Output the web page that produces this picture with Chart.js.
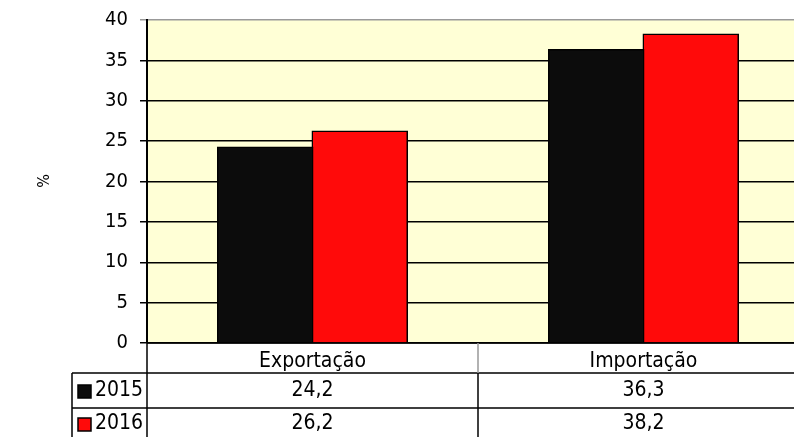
<!DOCTYPE html>
<html>
<head>
<meta charset="utf-8">
<script src="https://cdn.jsdelivr.net/npm/chart.js@4.4.0/dist/chart.umd.min.js"></script>
<style>
  html, body { margin: 0; padding: 0; background: #fff; overflow: hidden; }
  #wrap { width: 794px; height: 437px; overflow: hidden; }
  #inner { width: 809px; height: 437px; }
</style>
</head>
<body>
<div id="wrap"><div id="inner"><canvas id="chart"></canvas></div></div>
<script>
let categories = ['Exportação', 'Importação'];
let seriesNames = ['2015', '2016'];
let values2015 = [24.2, 36.3];
let values2016 = [26.2, 38.2];
let yTicks = [0, 5, 10, 15, 20, 25, 30, 35, 40];

const FONT = '"DejaVu Sans Condensed", "DejaVu Sans", sans-serif';

const fmt = v => v.toFixed(1).replace('.', ',');

// plot background + data table under the chart
const tablePlugin = {
    id: 'tablePlugin',
    beforeDraw(chart) {
        let ctx = chart.ctx;
        let a = chart.chartArea;
        ctx.save();
        ctx.fillStyle = '#ffffd6';
        ctx.fillRect(a.left, a.top, a.right - a.left, a.bottom - a.top);
        ctx.restore();
    },
    afterDraw(chart) {
        let ctx = chart.ctx;
        let a = chart.chartArea;
        let x = chart.scales.x;
        let rowTop = a.bottom;
        let row1 = 373, row2 = 408, bottom = 437;
        let leftCol = 72;

        ctx.save();
        ctx.strokeStyle = '#000';
        ctx.lineWidth = 1.5;
        ctx.beginPath();
        ctx.moveTo(a.left, rowTop); ctx.lineTo(a.right, rowTop);
        ctx.moveTo(leftCol, row1); ctx.lineTo(a.right, row1);
        ctx.moveTo(leftCol, row2); ctx.lineTo(a.right, row2);
        ctx.moveTo(leftCol, row1); ctx.lineTo(leftCol, bottom);
        ctx.moveTo(a.left, rowTop); ctx.lineTo(a.left, bottom);
        ctx.stroke();

        // category separators
        for (let i = 1; i < categories.length; i++) {
            let sx = (x.getPixelForValue(i - 1) + x.getPixelForValue(i)) / 2;
            ctx.strokeStyle = '#999';
            ctx.beginPath(); ctx.moveTo(sx, rowTop); ctx.lineTo(sx, row1); ctx.stroke();
            ctx.strokeStyle = '#000';
            ctx.beginPath(); ctx.moveTo(sx, row1); ctx.lineTo(sx, bottom); ctx.stroke();
        }

        ctx.fillStyle = '#000';
        ctx.font = '21px ' + FONT;
        ctx.textAlign = 'center';
        ctx.textBaseline = 'middle';
        let rows = [values2015, values2016];
        categories.forEach((c, i) => {
            let cx = x.getPixelForValue(i);
            ctx.fillText(c, cx, 362);
            ctx.fillText(fmt(rows[0][i]), cx, 391);
            ctx.fillText(fmt(rows[1][i]), cx, 424);
        });

        // legend keys
        let colors = ['#0c0c0c', '#ff0a0a'];
        let ys = [391, 424];
        seriesNames.forEach((n, i) => {
            ctx.fillStyle = colors[i];
            ctx.fillRect(78, ys[i] - 6, 13, 13);
            ctx.strokeStyle = '#000';
            ctx.lineWidth = 1.5;
            ctx.strokeRect(78, ys[i] - 6, 13, 13);
            ctx.fillStyle = '#000';
            ctx.textAlign = 'left';
            ctx.fillText(n, 95, ys[i]);
        });

        // y axis title
        ctx.translate(45, 181);
        ctx.rotate(-Math.PI / 2);
        ctx.textAlign = 'center';
        ctx.font = '16px ' + FONT;
        ctx.fillText('%', 0, 0);
        ctx.restore();
    }
};

new Chart(document.getElementById('chart'), {
    type: 'bar',
    data: {
        labels: categories,
        datasets: [
            { label: seriesNames[0], data: values2015, backgroundColor: '#0c0c0c', borderColor: '#000', borderWidth: 1.5, inflateAmount: 1 },
            { label: seriesNames[1], data: values2016, backgroundColor: '#ff0a0a', borderColor: '#000', borderWidth: 1.5, inflateAmount: 1 }
        ]
    },
    options: {
        responsive: true,
        maintainAspectRatio: false,
        animation: false,
        devicePixelRatio: 1,
        layout: { padding: { top: 20, bottom: 94, right: 0, left: 0 } },
        plugins: { legend: { display: false }, tooltip: { enabled: false } },
        datasets: { bar: { categoryPercentage: 0.571, barPercentage: 1 } },
        scales: {
            x: { display: false },
            y: {
                min: 0, max: 40,
                afterFit: s => { s.width = 147; s.paddingTop = 0; s.paddingBottom = 0; },
                afterBuildTicks: s => { s.ticks = yTicks.map(v => ({ value: v })); },
                border: { color: '#000', width: 2 },
                grid: {
                    color: c => c.tick && c.tick.value === 40 ? '#999' : '#000',
                    lineWidth: 1.5,
                    tickLength: 7,
                    drawOnChartArea: true
                },
                ticks: {
                    color: '#000',
                    padding: 12,
                    font: { family: FONT, size: 20 }
                }
            }
        }
    },
    plugins: [tablePlugin]
});
</script>
</body>
</html>
